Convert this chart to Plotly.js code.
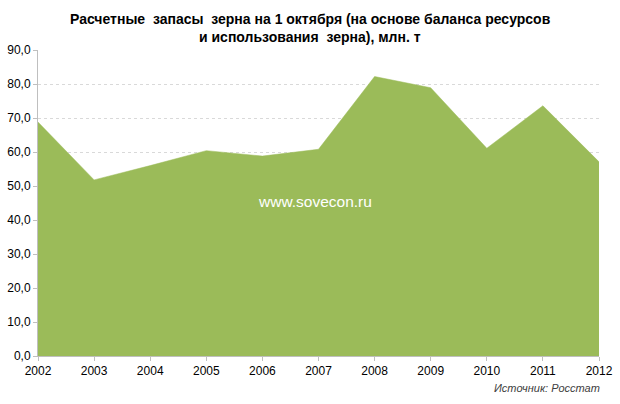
<!DOCTYPE html>
<html><head><meta charset="utf-8">
<script src="https://cdn.plot.ly/plotly-3.0.1.min.js"></script>
<style>html,body{margin:0;padding:0;background:#fff}#chart{width:620px;height:404px}</style>
</head><body><div id="chart"></div>
<script>
const years = [2002,2003,2004,2005,2006,2007,2008,2009,2010,2011,2012];
const stocks = [68.8,51.8,56.0,60.4,58.8,60.8,82.2,78.9,61.1,73.6,57.1];
const yTicks = [0,10,20,30,40,50,60,70,80,90];
const titleLines = ['Расчетные  запасы  зерна на 1 октября (на основе баланса ресурсов', 'и использования  зерна), млн. т'];

const trace = {
  x: years, y: stocks, type: 'scatter', mode: 'lines',
  fill: 'tozeroy', fillcolor: '#9BBB59',
  line: {color: '#9BBB59', width: 0.5},
  hoverinfo: 'skip'
};
const titleFont = {size: 14, color: '#000', family: 'Liberation Sans, Arial, sans-serif'};
const layout = {
  width: 620, height: 404,
  margin: {l: 38, r: 21, t: 50, b: 48},
  paper_bgcolor: '#fff', plot_bgcolor: '#fff',
  font: {family: 'Liberation Sans, Arial, sans-serif', size: 12, color: '#000'},
  separators: ', ',
  showlegend: false,
  xaxis: {range: [2002, 2012], tickvals: years, ticktext: years.map(String),
    showgrid: false, zeroline: false, showline: true, linecolor: '#bfbfbf', linewidth: 1,
    ticks: 'outside', ticklen: 4, tickcolor: '#bfbfbf', tickfont: {size: 12}},
  yaxis: {range: [0, 90], tickvals: yTicks, tickformat: '.1f',
    showgrid: true, gridcolor: '#d9d9d9', griddash: 'dot', gridwidth: 1,
    zeroline: false, showline: true, linecolor: '#bfbfbf', linewidth: 1,
    ticks: 'outside', ticklen: 4, tickcolor: '#bfbfbf', tickfont: {size: 12}},
  annotations: [
    {text: '<b>' + titleLines[0] + '</b>', xref: 'paper', yref: 'paper', x: 0.485, y: 1 + 31/306,
     xanchor: 'center', yanchor: 'middle', showarrow: false, font: titleFont},
    {text: '<b>' + titleLines[1] + '</b>', xref: 'paper', yref: 'paper', x: 0.485, y: 1 + 13/306,
     xanchor: 'center', yanchor: 'middle', showarrow: false, font: titleFont},
    {text: 'www.sovecon.ru', xref: 'paper', yref: 'paper', x: 0.493, y: 1 - 151/306,
     xanchor: 'center', yanchor: 'middle', showarrow: false, font: {size: 15.5, color: '#fff'}},
    {text: '<i>Источник: Росстат</i>', xref: 'paper', yref: 'paper', x: 1 + 3/561, y: -32/306,
     xanchor: 'right', yanchor: 'middle', showarrow: false, font: {size: 11, color: '#404040'}}
  ]
};
Plotly.newPlot('chart', [trace], layout, {displayModeBar: false, staticPlot: true});
</script></body></html>
